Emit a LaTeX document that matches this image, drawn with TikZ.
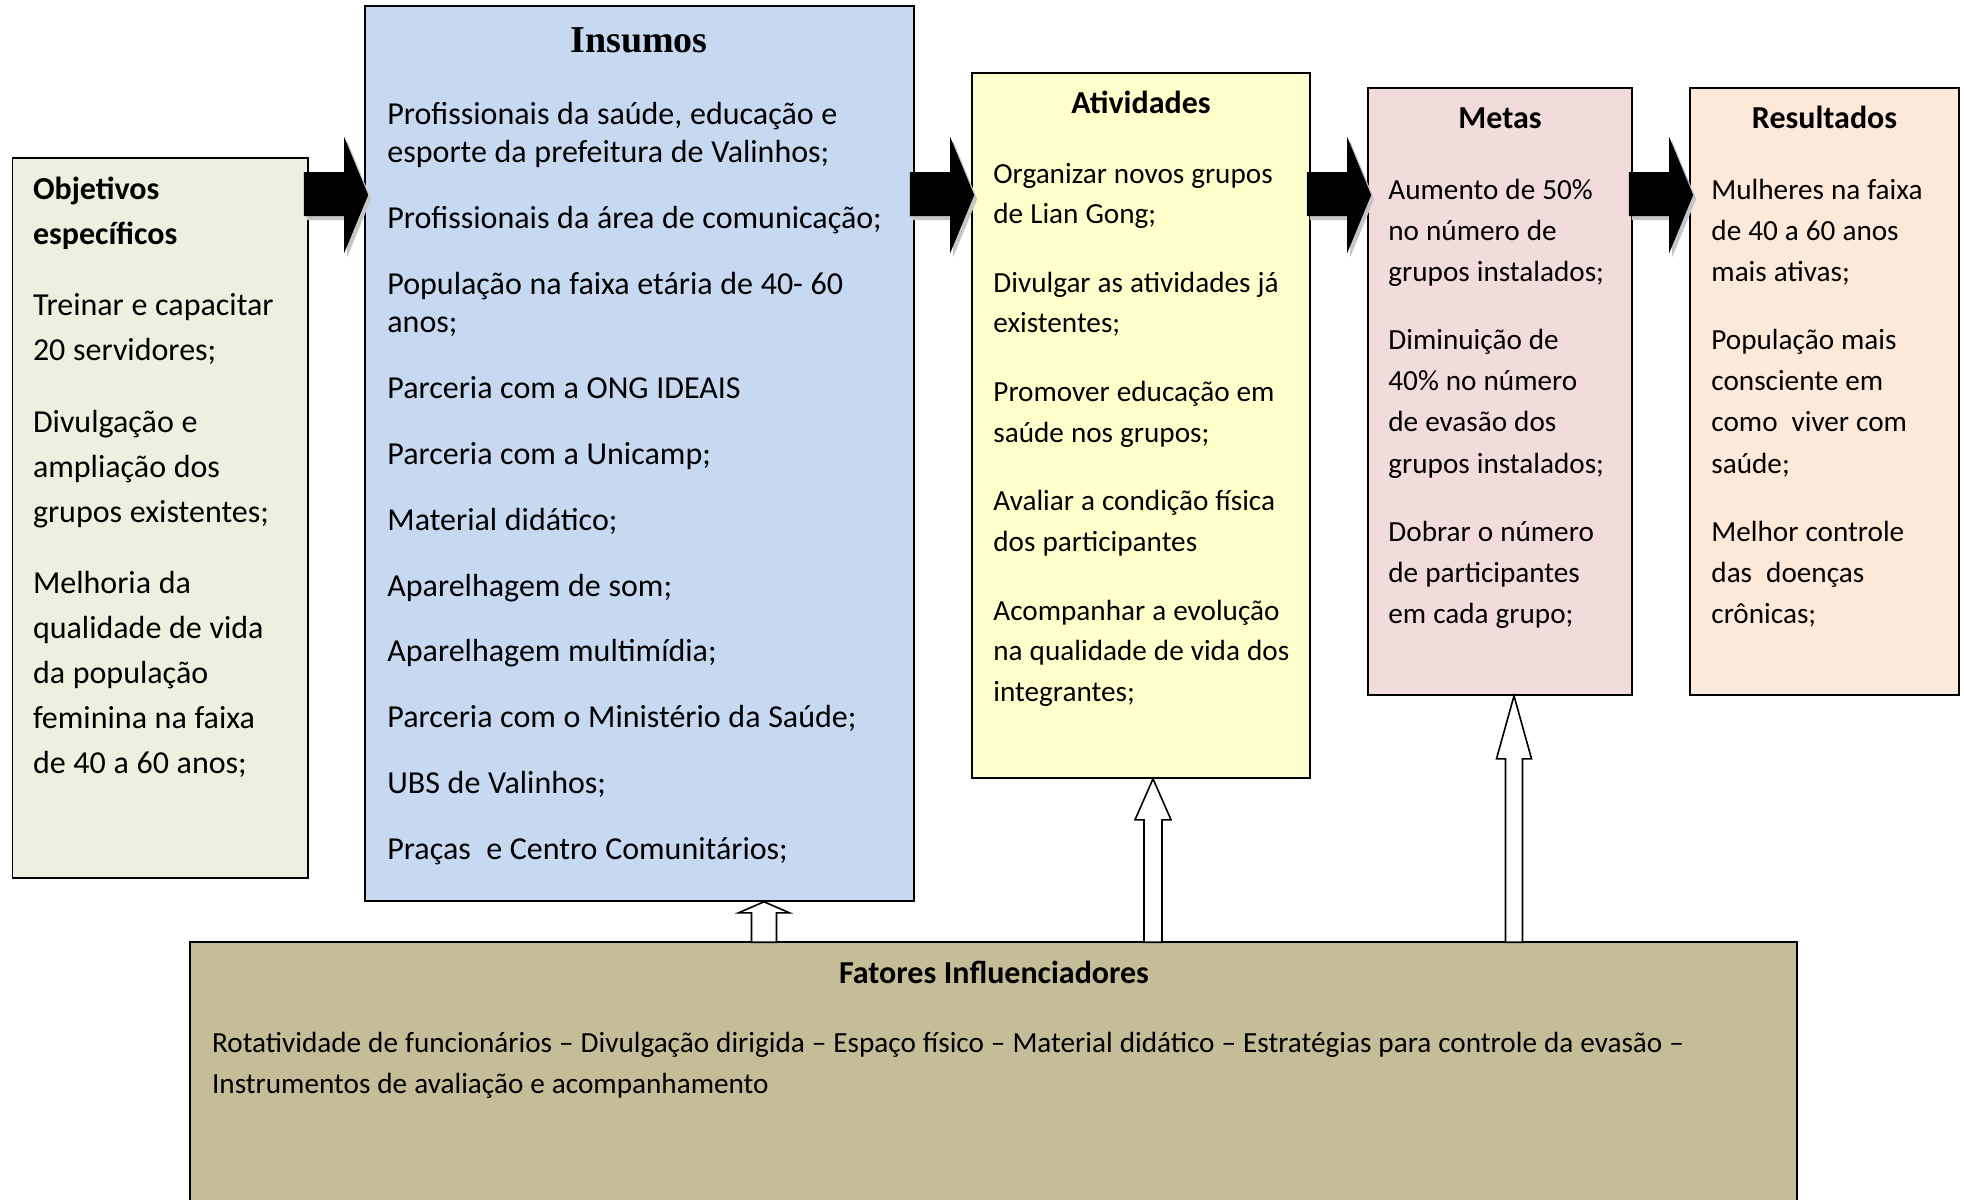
\documentclass[tikz,border=0pt]{standalone}
\usepackage{fontspec}
\setmainfont{Carlito}
\newfontfamily\titleserif{Liberation Serif}
\usetikzlibrary{calc,fit}
\definecolor{cobj}{HTML}{EBF1DE}
\definecolor{cins}{HTML}{C6D9F1}
\definecolor{cati}{HTML}{FFFFCC}
\definecolor{cmet}{HTML}{F2DCDB}
\definecolor{cres}{HTML}{FDE9D9}
\definecolor{cfat}{HTML}{C4BD97}
\newcommand\barr[2]{%
  \fill[gray!45] ($(#1)+(3,-19)$) -- ($(#2)+(-21,-19)$) -- ($(#2)+(-21,-54)$) -- ($(#2)+(3,4)$) -- ($(#2)+(-21,62)$) -- ($(#2)+(-21,25)$) -- ($(#1)+(3,25)$) -- cycle;
  \fill[black] ($(#1)+(0,-23)$) -- ($(#2)+(-24,-23)$) -- ($(#2)+(-24,-58)$) -- (#2) -- ($(#2)+(-24,58)$) -- ($(#2)+(-24,21)$) -- ($(#1)+(0,21)$) -- cycle;}
\newcommand\uparr[5]{%
  \draw[uparrowstyle] (#1) -- ($(#1)+(#4,#3)$) -- ($(#1)+(#5,#3)$) -- ($(#2)+(#5,0)$) -- ($(#2)+(-#5,0)$) -- ($(#1)+(-#5,#3)$) -- ($(#1)+(-#4,#3)$) -- cycle;}
\newcommand\wsp{\spaceskip=0.24em plus 0.05em\relax}
\begin{document}
\begin{tikzpicture}[x=0.5pt,y=-0.5pt,
  boxstyle/.style={draw=black,line width=0.8pt,inner sep=0pt},
  uparrowstyle/.style={draw=black,fill=white,line width=0.8pt,line join=miter},
  txt/.style={anchor=base west,inner sep=0pt,align=left,text width=#1},
  ttl/.style={anchor=base,inner sep=0pt,font=\bfseries\fontsize{16}{19}\selectfont}]
\clip (0,0) rectangle (1964,1199);
\fill[white] (0,0) rectangle (1964,1199);
% boxes
\node[boxstyle,fill=cobj,fit={(12.5,158) (308,878)}] (obj) {};
\node[boxstyle,fill=cins,fit={(365,6) (914,901)}] (ins) {};
\node[boxstyle,fill=cati,fit={(972,73) (1310,778)}] (ati) {};
\node[boxstyle,fill=cmet,fit={(1368,88) (1632,695)}] (met) {};
\node[boxstyle,fill=cres,fit={(1690,88) (1959,695)}] (res) {};
\node[boxstyle,fill=cfat,fit={(190,942) (1797,1260)}] (fat) {};
% titles
\node[anchor=base,inner sep=0pt,font=\titleserif\bfseries\fontsize{19}{22}\selectfont] (tins) at (639,52) {Insumos};
\node[ttl] (tati) at (1141,113) {Atividades};
\node[ttl] (tmet) at (1500,128) {Metas};
\node[ttl] (tres) at (1824.5,128) {Resultados};
\node[ttl] (tfat) at (994,983) {\wsp Fatores Influenciadores};
% texts
\node[txt=140pt,font=\fontsize{16}{22.5}\selectfont] (xobj) at (32.6,199) {\wsp
\textbf{Objetivos}\\\textbf{específicos}\\[13.25pt]
Treinar e capacitar\\20 servidores;\\[13.25pt]
Divulgação e\\ampliação dos\\grupos existentes;\\[13.25pt]
Melhoria da\\qualidade de vida\\da população\\feminina na faixa\\de 40 a 60 anos;};
\node[txt=262pt,font=\fontsize{16}{19.15}\selectfont] (xins) at (387,124) {\wsp
Profissionais da saúde, educação e\\esporte da prefeitura de Valinhos;\\[13.8pt]
Profissionais da área de comunicação;\\[13.8pt]
População na faixa etária de 40- 60\\anos;\\[13.8pt]
Parceria com a ONG IDEAIS\\[13.8pt]
Parceria com a Unicamp;\\[13.8pt]
Material didático;\\[13.8pt]
Aparelhagem de som;\\[13.8pt]
Aparelhagem multimídia;\\[13.8pt]
Parceria com o Ministério da Saúde;\\[13.8pt]
UBS de Valinhos;\\[13.8pt]
Praças\ \ e Centro Comunitários;};
\node[txt=160pt,font=\fontsize{14.6}{20.25}\selectfont] (xati) at (993,183) {\wsp
Organizar novos grupos\\de Lian Gong;\\[14.15pt]
Divulgar as atividades já\\existentes;\\[14.15pt]
Promover educação em\\saúde nos grupos;\\[14.15pt]
Avaliar a condição física\\dos participantes\\[14.15pt]
Acompanhar a evolução\\na qualidade de vida dos\\integrantes;};
\node[txt=120pt,font=\fontsize{14.6}{20.6}\selectfont] (xmet) at (1388,199) {\wsp
Aumento de 50\%\\no número de\\grupos instalados;\\[13.4pt]
Diminuição de\\40\% no número\\de evasão dos\\grupos instalados;\\[13.4pt]
Dobrar o número\\de participantes\\em cada grupo;};
\node[txt=120pt,font=\fontsize{14.6}{20.6}\selectfont] (xres) at (1711,199) {\wsp
Mulheres na faixa\\de 40 a 60 anos\\mais ativas;\\[13.4pt]
População mais\\consciente em\\como\ \ viver com\\saúde;\\[13.4pt]
Melhor controle\\das\ \ doenças\\crônicas;};
\node[txt=790pt,font=\fontsize{14.6}{20.75}\selectfont] (xfat) at (211.7,1052) {\wsp
Rotatividade de funcionários – Divulgação dirigida – Espaço físico – Material didático – Estratégias para controle da evasão –\\
Instrumentos de avaliação e acompanhamento};
% black block arrows
\coordinate (row) at (0,195);
\coordinate (s1) at ($(obj.east |- row)+(-5,0)$);
\coordinate (t1) at ($(ins.west |- row)+(4,0)$);
\coordinate (s2) at ($(ins.east |- row)+(-5,0)$);
\coordinate (t2) at ($(ati.west |- row)+(3,0)$);
\coordinate (s3) at ($(ati.east |- row)+(-4,0)$);
\coordinate (t3) at ($(met.west |- row)+(4,0)$);
\coordinate (s4) at ($(met.east |- row)+(-4,0)$);
\coordinate (t4) at ($(res.west |- row)+(4,0)$);
\barr{s1}{t1}
\barr{s2}{t2}
\barr{s3}{t3}
\barr{s4}{t4}
% white up arrows
\coordinate (xa) at (764,0);
\coordinate (xb) at (1153,0);
\coordinate (xc) at (1514,0);
\coordinate (ua) at (ins.south -| xa);
\coordinate (ba) at ($(fat.north -| xa)+(0,1)$);
\coordinate (ub) at (ati.south -| xb);
\coordinate (bb) at ($(fat.north -| xb)+(0,1)$);
\coordinate (uc) at (met.south -| xc);
\coordinate (bc) at ($(fat.north -| xc)+(0,1)$);
\uparr{ua}{ba}{11}{25.5}{12.5}
\uparr{ub}{bb}{41}{18}{9}
\uparr{uc}{bc}{63}{17.5}{8.5}
\end{tikzpicture}
\end{document}
